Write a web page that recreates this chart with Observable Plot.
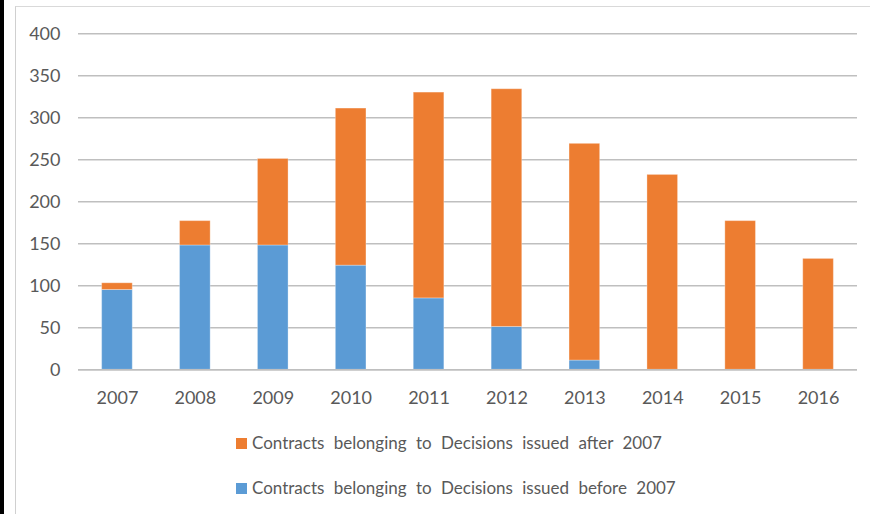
<!DOCTYPE html>
<html>
<head>
<meta charset="utf-8">
<script src="https://cdn.jsdelivr.net/npm/d3@7"></script>
<script src="https://cdn.jsdelivr.net/npm/@observablehq/plot@0.6"></script>
<style>
  html, body { margin: 0; padding: 0; background: #fff; }
  #page { position: relative; width: 870px; height: 514px; overflow: hidden; font-family: Lato, "Open Sans", sans-serif; }
  #blackbar { position: absolute; left: 0; top: 0; width: 4px; height: 514px; background: #000; }
  #frame { position: absolute; left: 15px; top: 6px; width: 860px; height: 520px; border-left: 1.5px solid #d0d0d0; border-top: 1.5px solid #d9d9d9; }
  #chart { position: absolute; left: 0; top: 0; }
  .leg { position: absolute; left: 236px; font-size: 17px; color: #595959; white-space: nowrap; line-height: 20px; word-spacing: 5px; }
  .leg .sw { display: inline-block; width: 11px; height: 11px; margin-right: 5px; vertical-align: 0px; }
</style>
</head>
<body>
<div id="page">
  <div id="blackbar"></div>
  <div id="frame"></div>
  <div id="chart"></div>
  <div class="leg" id="leg1" style="top:433px"></div>
  <div class="leg" id="leg2" style="top:478px"></div>
</div>
<script>
const years = ["2007","2008","2009","2010","2011","2012","2013","2014","2015","2016"];
const beforeValues = [95, 148, 148, 124, 85, 51, 11, 0, 0, 0];
const afterValues  = [8, 29, 103, 187, 245, 283, 258, 232, 177, 132];
const seriesNames = [
  "Contracts belonging to Decisions issued before 2007",
  "Contracts belonging to Decisions issued after 2007"
];
const seriesColors = ["#5B9BD5", "#ED7D31"];
const yTicks = [0, 50, 100, 150, 200, 250, 300, 350, 400];

const rows = [];
years.forEach((y, i) => rows.push({year: y, series: seriesNames[0], value: beforeValues[i]}));
years.forEach((y, i) => rows.push({year: y, series: seriesNames[1], value: afterValues[i]}));

const chart = Plot.plot({
  width: 870,
  height: 415,
  marginLeft: 78,
  marginRight: 13,
  marginTop: 33.3,
  marginBottom: 45.7,
  style: {fontFamily: "Lato, 'Open Sans', sans-serif", fontSize: "18px", color: "#595959", background: "transparent"},
  x: {domain: years, round: false, paddingInner: 0.607, paddingOuter: 0.3035, label: null, tickSize: 0, tickPadding: 21},
  y: {domain: [0, 400], ticks: yTicks, label: null, tickSize: 0, tickPadding: 18},
  color: {domain: seriesNames, range: seriesColors},
  marks: [
    Plot.ruleY(yTicks, {stroke: "#bfbfbf", strokeWidth: 1.6}),
    Plot.barY(rows, {x: "year", y: "value", fill: "series", stroke: "#ffffff", strokeOpacity: 0.3, strokeWidth: 1, inset: 0}),
    Plot.ruleY([0], {stroke: "#bfbfbf", strokeWidth: 1.6})
  ]
});
document.getElementById("chart").appendChild(chart);

function legendRow(el, idx) {
  const sw = document.createElement("span");
  sw.className = "sw";
  sw.style.background = seriesColors[idx];
  el.appendChild(sw);
  el.appendChild(document.createTextNode(seriesNames[idx]));
}
legendRow(document.getElementById("leg1"), 1);
legendRow(document.getElementById("leg2"), 0);
</script>
</body>
</html>
